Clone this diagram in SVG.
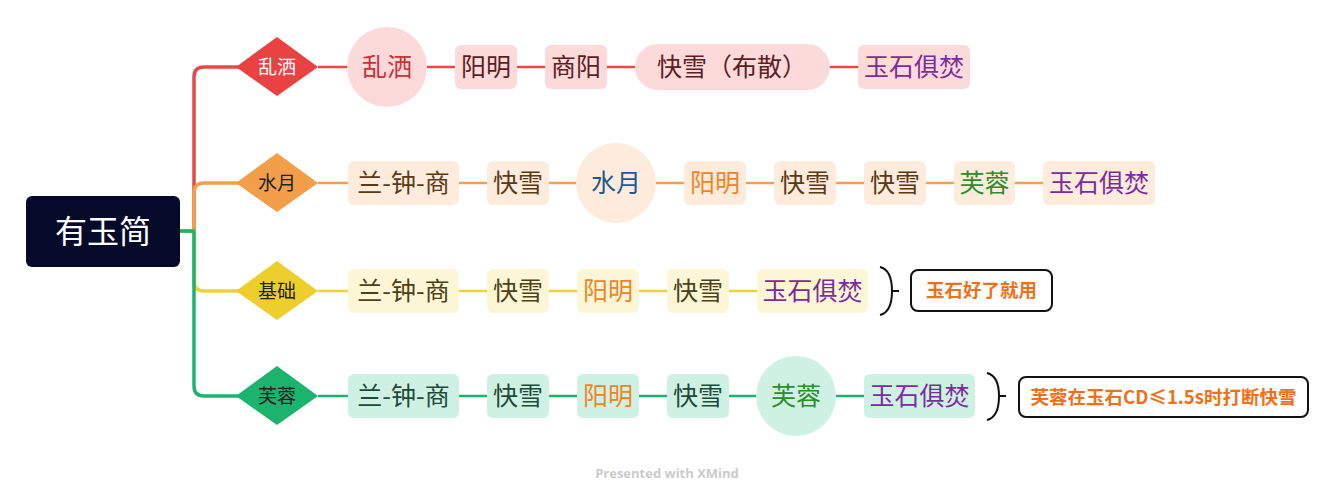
<svg xmlns="http://www.w3.org/2000/svg" width="1335" height="500" viewBox="0 0 1335 500">
<style>
text{font-family:"Noto Sans CJK SC","Noto Sans",sans-serif;text-anchor:middle;dominant-baseline:central}
.t{font-size:25px}
.d{font-size:19px;fill:#222}
.c1{stroke:#E84848;stroke-width:2.5;fill:none}
.c2{stroke:#F2A04E;stroke-width:2.5;fill:none}
.c3{stroke:#EDD23C;stroke-width:2.5;fill:none}
.c4{stroke:#1BB36E;stroke-width:2.5;fill:none}
.tr{stroke-width:3.5;fill:none;stroke-linejoin:round}
.f1{fill:#FDDADA}.f2{fill:#FDEBDC}.f3{fill:#FDF6D6}.f4{fill:#CFF1E3}
.k1{fill:#5C1E1E}.k2{fill:#5A3A16}.k3{fill:#4A4216}.k4{fill:#1D4A3A}
.or{fill:#F08424}.pu{fill:#7A2E9C}.gr{fill:#2E8B2E}.bl{fill:#1F5A8C}.rd{fill:#C9303A}
.sum{fill:#fff;stroke:#111;stroke-width:2}
.st{font-size:18.5px;font-weight:bold;fill:#F07018}
.br{stroke:#111;stroke-width:2;fill:none}
</style>
<g id="connectors">
<path class="tr" stroke="#E84848" d="M180,231 H194 V77 Q194,67 204,67 H240"/>
<path class="tr" stroke="#F2A04E" d="M180,231 H194 V193 Q194,183 204,183 H240"/>
<path class="tr" stroke="#EDD23C" d="M180,231 H194 V281 Q194,291 204,291 H240"/>
<path class="tr" stroke="#1BB36E" d="M180,231 H194 V386 Q194,396 204,396 H240"/>
<path class="c1" d="M318,67 H348 M427,67 H455 M517,67 H545 M607,67 H635 M830,67 H858"/>
<path class="c2" d="M318,183 H348 M459,183 H487 M549,183 H576 M656,183 H684 M746,183 H774 M836,183 H864 M926,183 H954 M1015,183 H1043"/>
<path class="c3" d="M318,291 H348 M459,291 H487 M549,291 H577 M639,291 H667 M729,291 H757"/>
<path class="c4" d="M318,396 H348 M459,396 H487 M549,396 H577 M639,396 H667 M729,396 H756 M836,396 H864"/>
</g>
<g id="root"><rect x="26" y="196" width="154" height="71" rx="6" fill="#050A2A"/><text x="103" y="229" font-size="32" fill="#fff">有玉简</text></g>
<g id="b1"><path d="M277,37 L318,67 L277,96 L236,67 Z" fill="#EA4242"/><text class="d" x="277" y="65.5" style="fill:#fff">乱洒</text></g>
<g id="b2"><path d="M277,153 L318,183 L277,212 L236,183 Z" fill="#F39E48"/><text class="d" x="277" y="181.5">水月</text></g>
<g id="b3"><path d="M277,261 L318,291 L277,320 L236,291 Z" fill="#EECE2C"/><text class="d" x="277" y="289.5">基础</text></g>
<g id="b4"><path d="M277,366 L318,396 L277,425 L236,396 Z" fill="#1BB36E"/><text class="d" x="277" y="394.5">芙蓉</text></g>

<g id="r1n1"><circle cx="387" cy="67" r="40" class="f1"/><text class="t rd" x="387" y="65">乱洒</text></g>
<g id="r1n2"><rect x="455" y="45" width="62" height="44" rx="6" class="f1"/><text class="t k1" x="486" y="65">阳明</text></g>
<g id="r1n3"><rect x="545" y="45" width="62" height="44" rx="6" class="f1"/><text class="t k1" x="576" y="65">商阳</text></g>
<g id="r1n4"><rect x="635" y="44" width="195" height="46" rx="23" class="f1"/><text class="t k1" x="732" y="65">快雪（布散）</text></g>
<g id="r1n5"><rect x="858" y="45" width="112" height="44" rx="6" class="f1"/><text class="t pu" x="914" y="65">玉石俱焚</text></g>

<g id="r2n1"><rect x="348" y="161" width="111" height="44" rx="6" class="f2"/><text class="t k2" x="403.5" y="181">兰-钟-商</text></g>
<g id="r2n2"><rect x="487" y="161" width="62" height="44" rx="6" class="f2"/><text class="t k2" x="518" y="181">快雪</text></g>
<g id="r2n3"><circle cx="616" cy="183" r="40" class="f2"/><text class="t bl" x="616" y="181">水月</text></g>
<g id="r2n4"><rect x="684" y="161" width="62" height="44" rx="6" class="f2"/><text class="t or" x="715" y="181">阳明</text></g>
<g id="r2n5"><rect x="774" y="161" width="62" height="44" rx="6" class="f2"/><text class="t k2" x="805" y="181">快雪</text></g>
<g id="r2n6"><rect x="864" y="161" width="62" height="44" rx="6" class="f2"/><text class="t k2" x="895" y="181">快雪</text></g>
<g id="r2n7"><rect x="954" y="161" width="61" height="44" rx="6" class="f2"/><text class="t gr" x="984.5" y="181">芙蓉</text></g>
<g id="r2n8"><rect x="1043" y="161" width="112" height="44" rx="6" class="f2"/><text class="t pu" x="1099" y="181">玉石俱焚</text></g>

<g id="r3n1"><rect x="348" y="269" width="111" height="44" rx="6" class="f3"/><text class="t k3" x="403.5" y="289">兰-钟-商</text></g>
<g id="r3n2"><rect x="487" y="269" width="62" height="44" rx="6" class="f3"/><text class="t k3" x="518" y="289">快雪</text></g>
<g id="r3n3"><rect x="577" y="269" width="62" height="44" rx="6" class="f3"/><text class="t or" x="608" y="289">阳明</text></g>
<g id="r3n4"><rect x="667" y="269" width="62" height="44" rx="6" class="f3"/><text class="t k3" x="698" y="289">快雪</text></g>
<g id="r3n5"><rect x="757" y="269" width="111" height="44" rx="6" class="f3"/><text class="t pu" x="812.5" y="289">玉石俱焚</text></g>
<g id="s1"><path class="br" d="M880,267 Q892,270 892,291 Q892,312 880,315 M892,291 H899"/><rect x="911" y="270" width="141" height="41" rx="7" class="sum"/><text class="st" x="981.5" y="289">玉石好了就用</text></g>

<g id="r4n1"><rect x="348" y="374" width="111" height="44" rx="6" class="f4"/><text class="t k4" x="403.5" y="394">兰-钟-商</text></g>
<g id="r4n2"><rect x="487" y="374" width="62" height="44" rx="6" class="f4"/><text class="t k4" x="518" y="394">快雪</text></g>
<g id="r4n3"><rect x="577" y="374" width="62" height="44" rx="6" class="f4"/><text class="t or" x="608" y="394">阳明</text></g>
<g id="r4n4"><rect x="667" y="374" width="62" height="44" rx="6" class="f4"/><text class="t k4" x="698" y="394">快雪</text></g>
<g id="r4n5"><circle cx="796" cy="396" r="40" class="f4"/><text class="t gr" x="796" y="394">芙蓉</text></g>
<g id="r4n6"><rect x="864" y="374" width="111" height="44" rx="6" class="f4"/><text class="t pu" x="919.5" y="394">玉石俱焚</text></g>
<g id="s2"><path class="br" d="M987,373 Q999,376 999,396 Q999,417 987,420 M999,396 H1006"/><rect x="1019" y="377" width="289" height="40" rx="7" class="sum"/><text class="st" x="1163.5" y="395.5">芙蓉在玉石CD≤1.5s时打断快雪</text></g>

<text x="667" y="473" font-size="13" font-weight="bold" fill="#CBCBCB" style="font-family:'Open Sans',sans-serif">Presented with XMind</text>
</svg>
